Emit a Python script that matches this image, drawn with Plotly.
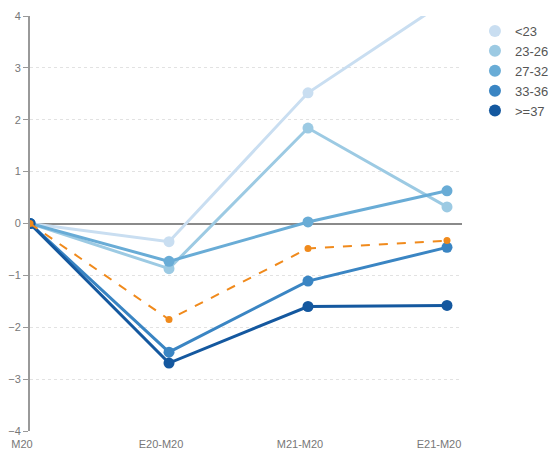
import plotly.graph_objects as go

categories = ["M20", "E20-M20", "M21-M20", "E21-M20"]
series_names = ["<23", "23-26", "27-32", "33-36", ">=37"]
v_lt23 = [0, -0.35, 2.52, 4.3]
v_23_26 = [0, -0.87, 1.84, 0.32]
v_27_32 = [0, -0.73, 0.03, 0.63]
v_33_36 = [0, -2.48, -1.11, -0.46]
v_ge37 = [0, -2.69, -1.6, -1.58]
v_avg = [0, -1.85, -0.48, -0.33]
y_ticks = [-4, -3, -2, -1, 0, 1, 2, 3, 4]

colors = ["#c9def1", "#9ccae3", "#69acd6", "#3a85c3", "#14589f"]
series_values = [v_lt23, v_23_26, v_27_32, v_33_36, v_ge37]

fig = go.Figure()
xs = list(range(len(categories)))
for name, vals, c in zip(series_names, series_values, colors):
    fig.add_trace(go.Scatter(
        x=xs, y=vals, name=name, mode="lines+markers", showlegend=False,
        line=dict(color=c, width=3), marker=dict(color=c, size=11),
        cliponaxis=True,
    ))
fig.add_trace(go.Scatter(
    x=xs, y=v_avg, name="avg", mode="lines+markers", showlegend=False,
    line=dict(color="#f08a1c", width=2, dash="dash"),
    marker=dict(color="#f08a1c", size=7),
))
# legend entries: markers only
for name, c in zip(series_names, colors):
    fig.add_trace(go.Scatter(
        x=[None], y=[None], name=name, mode="markers",
        marker=dict(color=c, size=12), showlegend=True,
    ))

fig.update_layout(
    width=552, height=444,
    margin=dict(l=22, r=98, t=8, b=21, autoexpand=False),
    paper_bgcolor="white", plot_bgcolor="white",
    font=dict(family="Liberation Sans, Arial, sans-serif", color="#666", size=11),
    showlegend=True,
    legend=dict(x=1.03, y=1.0, xanchor="left", yanchor="top",
                font=dict(size=13, color="#555"),
                tracegroupgap=0, itemwidth=30),
    xaxis=dict(
        tickmode="array", tickvals=xs, ticktext=categories,
        range=[0, 3.108], showgrid=False, zeroline=False, showline=False,
        ticks="", ticklabelshift=-8, ticklabelstandoff=5,
        tickfont=dict(size=11, color="#777"),
    ),
    yaxis=dict(
        range=[-4, 4], tickvals=y_ticks, showgrid=True,
        gridcolor="#e2e2e2", griddash="dot", gridwidth=1,
        zeroline=True, zerolinecolor="#8a8a8a", zerolinewidth=1.5,
        showline=True, linecolor="#999", linewidth=2,
        ticks="outside", ticklen=5, tickcolor="#999",
        tickfont=dict(size=11, color="#777"),
    ),
)
fig.write_html("out.html")
